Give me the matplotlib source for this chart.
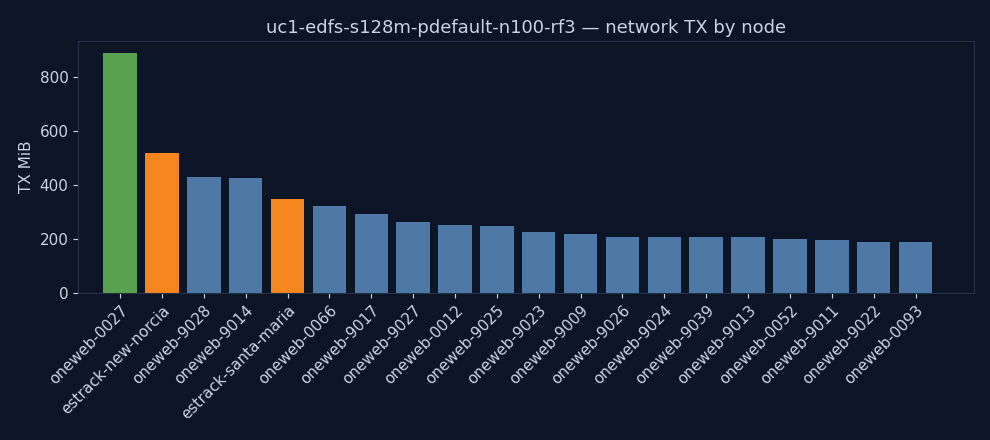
import matplotlib
matplotlib.use("Agg")
import matplotlib.pyplot as plt

# ---------- DATA ----------
nodes = ["oneweb-0027", "estrack-new-norcia", "oneweb-9028", "oneweb-9014",
         "estrack-santa-maria", "oneweb-0066", "oneweb-9017", "oneweb-9027",
         "oneweb-0012", "oneweb-9025", "oneweb-9023", "oneweb-9009",
         "oneweb-9026", "oneweb-9024", "oneweb-9039", "oneweb-9013",
         "oneweb-0052", "oneweb-9011", "oneweb-9022", "oneweb-0093"]
tx_mib = [890, 520, 430, 425, 350, 322, 292, 265, 253, 248,
          225, 218, 208, 207, 207, 206, 200, 196, 190, 188]
roles = ["top", "ground", "sat", "sat", "ground"] + ["sat"] * 15
# ----------------------------

BG = "#0b1526"
TXT = "#c9d3e3"
role_colors = {"top": "#59a14f", "ground": "#f5861f", "sat": "#4e79a7"}

fig, ax = plt.subplots(figsize=(9.9, 4.4), dpi=100)
fig.patch.set_facecolor(BG)
ax.set_facecolor(BG)

ax.bar(range(len(nodes)), tx_mib, width=0.8, color=[role_colors[r] for r in roles])
ax.set_xticks(range(len(nodes)))
ax.set_xticklabels(nodes, rotation=45, ha="right", rotation_mode="anchor")
ax.set_xlim(-1.0, len(nodes) + 0.4)
ax.set_ylim(0, 935)
ax.set_yticks([0, 200, 400, 600, 800])
ax.set_ylabel("TX MiB", color=TXT, fontsize=11)
ax.set_title("uc1-edfs-s128m-pdefault-n100-rf3 — network TX by node", color=TXT, fontsize=13)
ax.tick_params(colors=TXT, labelsize=11)
for s in ax.spines.values():
    s.set_color("#26324a")

fig.subplots_adjust(left=0.079, right=0.984, top=0.907, bottom=0.334)
fig.savefig("out.png", facecolor=BG)
